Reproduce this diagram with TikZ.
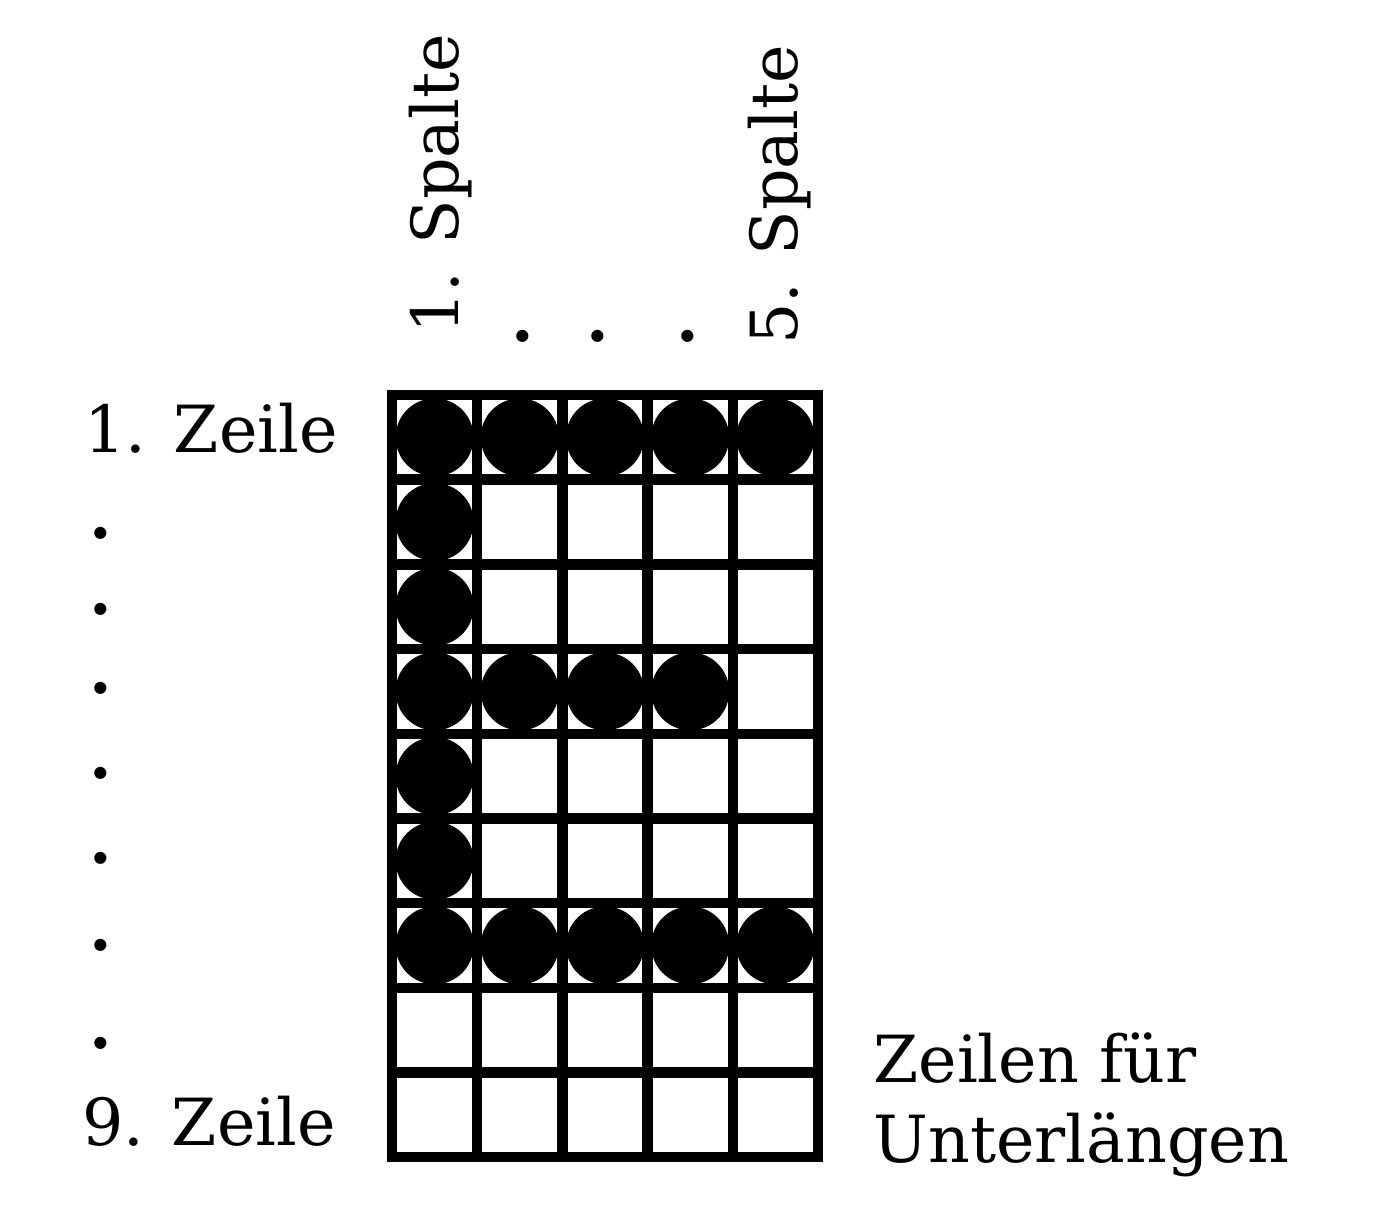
\documentclass[tikz,border=0pt]{standalone}
\usepackage{fontspec}
\setmainfont{DejaVu Serif}
\usepackage{tikz}
\definecolor{ink}{HTML}{000000}

\begin{document}
\begin{tikzpicture}[x=0.02cm,y=-0.02cm,font=\fontsize{37}{40}\selectfont,
  gridline/.style={ink,line width=5.9pt,line cap=rect},
  pixel/.style={ink},
  lbl/.style={text=ink,inner sep=0pt},
  ell/.style={lbl,font=\fontsize{37}{40}\selectfont\bfseries}]
  \useasboundingbox (0,0) rectangle (1374,1224);
  % 5x9 matrix
  \foreach \i in {0,...,5}
   \draw[gridline] ({392+85.2*\i},395) -- ({392+85.2*\i},1157);
  \foreach \j in {0,...,9}
   \draw[gridline] (392,{395+84.67*\j}) -- (818,{395+84.67*\j});
  % the letter E
  \foreach \c/\r in {1/1,2/1,3/1,4/1,5/1,1/2,1/3,1/4,2/4,3/4,4/4,1/5,1/6,1/7,2/7,3/7,4/7,5/7}
   \fill[pixel] ({392+85.2*(\c-0.5)},{395+84.67*(\r-0.5)}) circle[radius=0.78cm];
  % rows
  \node[lbl,anchor=base east] (zeile1) at (338,452){1. Zeile};
  \node[lbl,anchor=base east] (zeile9) at (336,1145){9. Zeile};
  \foreach \y [count=\k] in {533,609,688,773,858,945,1043}
   \node[ell] (rdot\k) at (101,\y){.};
  % columns
  \node[lbl,rotate=90,anchor=base west] (spalte1) at (458,334){1. Spalte};
  \node[lbl,rotate=90,anchor=base west] (spalte5) at (797,345){5. Spalte};
  \foreach \x [count=\k] in {523,598,688}
   \node[ell] (cdot\k) at (\x,336){.};
  % descender rows
  \node[lbl,anchor=base west] (unter1) at (873,1082){Zeilen für};
  \node[lbl,anchor=base west] (unter2) at (873,1162){Unterlängen};
\end{tikzpicture}
\end{document}
